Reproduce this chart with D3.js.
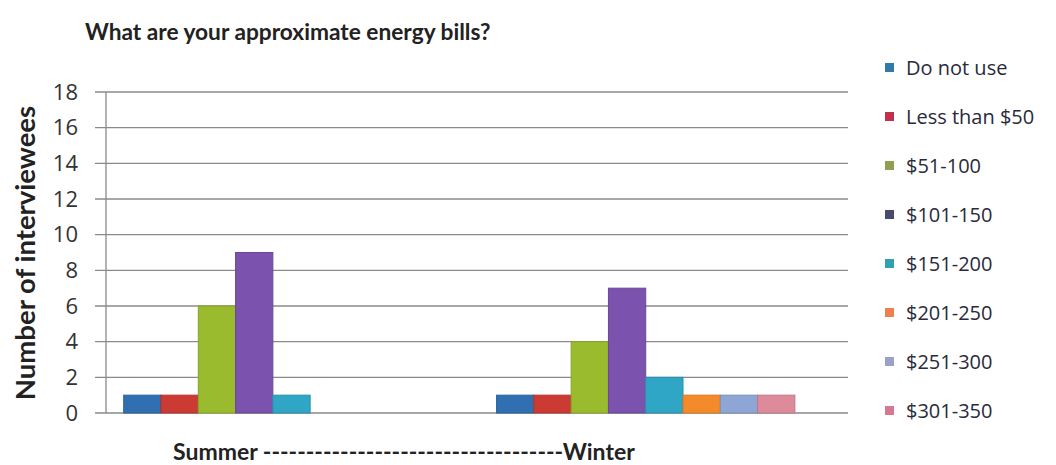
<!DOCTYPE html>
<html>
<head>
<meta charset="utf-8">
<script src="https://cdn.jsdelivr.net/npm/d3@7"></script>
<style>
  body { margin: 0; background: #fff; }
  svg text { font-family: Lato, "Open Sans", sans-serif; }
</style>
</head>
<body>
<div id="chart"></div>
<script>
const svgWidth = 1056
const svgHeight = 465

// data
const seasons = ["Summer", "Winter"]
const bills = ["Do not use", "Less than $50", "$51-100", "$101-150", "$151-200", "$201-250", "$251-300", "$301-350"]
const summerValues = [1, 1, 6, 9, 1, 0, 0, 0]
const winterValues = [1, 1, 4, 7, 2, 1, 1, 1]
const yTicks = [0, 2, 4, 6, 8, 10, 12, 14, 16, 18]

const barColors = ["#2f6fb2", "#cc3b33", "#9bbb2f", "#7b52ad", "#2fa6c6", "#f58a2a", "#8ea6d6", "#dd8a9b"]
const legendColors = ["#2f7aa8", "#c2304a", "#8fa050", "#4a4a6a", "#30a0b2", "#ee8050", "#9aa0c8", "#d87890"]

const tableData = seasons.map(function(s, i) {
  const vals = i == 0 ? summerValues : winterValues
  return { season: s, values: bills.map(function(b, j) { return { bill: b, value: vals[j] } }) }
})

var margin = { left: 106, right: 208, top: 92, bottom: 52 }
var w = svgWidth - margin.left - margin.right,
    h = svgHeight - margin.top - margin.bottom

var svg = d3.select("#chart").append("svg")
  .attr("width", svgWidth)
  .attr("height", svgHeight)

var g = svg.append("g")
  .attr("transform", "translate(" + margin.left + "," + margin.top + ")")

var yScale = d3.scaleLinear().domain([0, 18]).range([h, 0])

var x0 = d3.scaleBand()
  .domain(seasons)
  .range([0, w])
  .paddingInner(0.2)
  .paddingOuter(0.095)
  .align(0.25)

var x1 = d3.scaleBand()
  .domain(bills)
  .range([0, x0.bandwidth()])

var color = d3.scaleOrdinal().domain(bills).range(barColors)

// gridlines (with the little tick stub left of the axis)
g.append("g")
  .attr("class", "grid")
  .selectAll("line")
  .data(yTicks)
  .enter().append("line")
  .attr("x1", -11)
  .attr("x2", w)
  .attr("y1", function(d) { return yScale(d) })
  .attr("y2", function(d) { return yScale(d) })
  .attr("stroke", "#8a8a8a")
  .attr("stroke-width", 1.3)

// y axis labels
var yAxis = d3.axisLeft(yScale)
  .tickValues(yTicks)
  .tickSize(0)
  .tickPadding(28)

g.append("g")
  .attr("class", "axis y")
  .call(yAxis)
  .call(function(a) {
    a.select(".domain").remove()
    a.selectAll(".tick text")
      .attr("fill", "#333")
      .style("font-family", "'Open Sans', sans-serif")
      .style("font-size", "22px")
  })

// vertical axis line
g.append("line")
  .attr("x1", 0).attr("x2", 0)
  .attr("y1", yScale(18)).attr("y2", yScale(0))
  .attr("stroke", "#8a8a8a").attr("stroke-width", 1.3)

// bars
var groups = g.selectAll(".season")
  .data(tableData)
  .enter().append("g")
  .attr("class", "season")
  .attr("transform", function(d) { return "translate(" + x0(d.season) + ",0)" })

groups.selectAll("rect")
  .data(function(d) { return d.values.filter(function(v) { return v.value > 0 }) })
  .enter().append("rect")
  .attr("x", function(d) { return x1(d.bill) })
  .attr("y", function(d) { return yScale(d.value) })
  .attr("width", x1.bandwidth())
  .attr("height", function(d) { return yScale(0) - yScale(d.value) })
  .attr("fill", function(d) { return color(d.bill) })
  .attr("stroke", function(d) { return d3.color(color(d.bill)).darker(0.4) })
  .attr("stroke-width", 1)

// title
svg.append("text")
  .attr("x", 85)
  .attr("y", 40)
  .style("font-size", "22.7px")
  .style("font-weight", "bold")
  .attr("fill", "#222")
  .text("What are your approximate energy bills?")

// y axis title
svg.append("text")
  .attr("transform", "translate(35," + 253 + ") rotate(-90)")
  .attr("text-anchor", "middle")
  .style("font-size", "27.5px")
  .style("font-weight", "bold")
  .attr("fill", "#222")
  .text("Number of interviewees")

// x axis title
svg.append("text")
  .attr("x", 173)
  .attr("y", 460)
  .style("font-size", "23px")
  .style("font-weight", "bold")
  .attr("fill", "#222")
  .text("Summer -----------------------------------Winter")

// legend
var legend = svg.append("g").attr("transform", "translate(885,68)")
var item = legend.selectAll(".item")
  .data(bills)
  .enter().append("g")
  .attr("transform", function(d, i) { return "translate(0," + (i * 49) + ")" })

item.append("rect")
  .attr("x", 0).attr("y", -5)
  .attr("width", 9).attr("height", 9)
  .attr("fill", function(d, i) { return legendColors[i] })

item.append("text")
  .attr("x", 21)
  .attr("y", 7)
  .style("font-family", "'Open Sans', sans-serif")
  .style("font-size", "20px")
  .attr("fill", "#2a2a3a")
  .text(function(d) { return d })
</script>
</body>
</html>
